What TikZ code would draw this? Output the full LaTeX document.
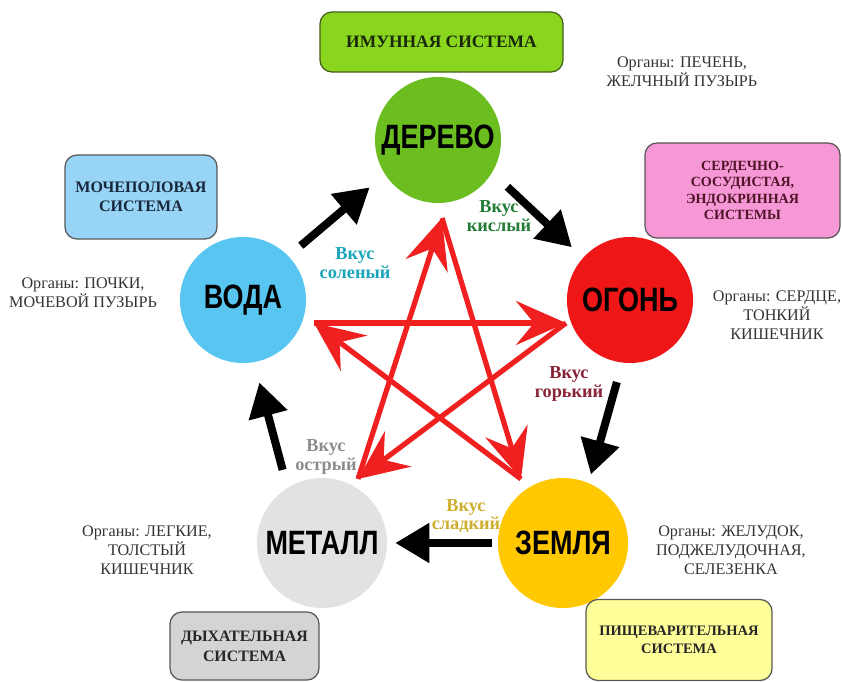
\documentclass[tikz,border=0pt]{standalone}
\usepackage{fontspec}
\setmainfont{Liberation Serif}
\newfontfamily\elemfont[FakeStretch=0.8]{Liberation Sans}
\usetikzlibrary{arrows.meta}

\definecolor{woodgreen}{RGB}{108,190,32}
\definecolor{firered}{RGB}{238,22,22}
\definecolor{earthyellow}{RGB}{255,200,0}
\definecolor{metalgrey}{RGB}{226,226,226}
\definecolor{waterblue}{RGB}{88,198,240}
\definecolor{starred}{RGB}{240,32,32}
\definecolor{boxgreen}{RGB}{138,214,30}
\definecolor{boxpink}{RGB}{246,152,214}
\definecolor{boxblue}{RGB}{152,212,246}
\definecolor{boxgrey}{RGB}{212,212,212}
\definecolor{boxyellow}{RGB}{255,255,153}
\definecolor{sourcol}{RGB}{35,125,55}
\definecolor{saltcol}{RGB}{25,165,185}
\definecolor{bittercol}{RGB}{135,35,55}
\definecolor{sharpcol}{RGB}{140,140,140}
\definecolor{sweetcol}{RGB}{205,175,45}

\tikzset{
  element/.style={circle, inner sep=0pt, minimum size=3.15cm,
    font=\elemfont\bfseries\fontsize{24}{24}\selectfont},
  sysbox/.style={draw=black!65, line width=0.9pt, rounded corners=0.3cm,
    align=center, text=black!85},
  organs/.style={align=center, text=black!80,
    font=\fontsize{11.5}{13.5}\selectfont},
  taste/.style={align=center, font=\bfseries\fontsize{13}{13}\selectfont},
  genarrow/.style={line width=0.2cm, -{Triangle[length=0.85cm,width=0.95cm]}},
  ctrlarrow/.style={draw=starred, line width=0.13cm,
    -{Stealth[length=1.25cm,width=1.1cm,inset=0.45cm]}},
}

\begin{document}
\begin{tikzpicture}[x=0.025cm, y=-0.025cm]
\useasboundingbox (0,0) rectangle (842,682);

    % five elements
    \node [element, fill=woodgreen] (derevo) at (438,140) {ДЕРЕВО};
    \node [element, fill=firered] (ogon) at (630,300) {ОГОНЬ};
    \node [element, fill=earthyellow, minimum size=3.25cm] (zemlya) at (563,543) {ЗЕМЛЯ};
    \node [element, fill=metalgrey, minimum size=3.25cm] (metall) at (322,543) {МЕТАЛЛ};
    \node [element, fill=waterblue] (voda) at (243,300) {ВОДА};

    % systems
    \node [sysbox, fill=boxgreen, draw={rgb,255:red,70;green,95;blue,30},
        minimum width=6.075cm, minimum height=1.5cm, text={rgb,255:red,25;green,40;blue,10},
        font=\bfseries\fontsize{12.4}{14}\selectfont] (imun) at (441.5,42) {ИМУННАЯ СИСТЕМА};
    \node [sysbox, fill=boxpink, minimum width=4.875cm, minimum height=2.375cm,
        text={rgb,255:red,80;green,20;blue,40},
        font=\bfseries\fontsize{10}{11.5}\selectfont] (serdce) at (742.5,190.5)
        {СЕРДЕЧНО-\\СОСУДИСТАЯ,\\ЭНДОКРИННАЯ\\СИСТЕМЫ};
    \node [sysbox, fill=boxblue, minimum width=3.8cm, minimum height=2.1cm,
        text={rgb,255:red,25;green,40;blue,60},
        font=\bfseries\fontsize{11.4}{13.5}\selectfont] (mochepol) at (141,197)
        {МОЧЕПОЛОВАЯ\\СИСТЕМА};
    \node [sysbox, fill=boxgrey, minimum width=3.725cm, minimum height=1.7cm,
        font=\bfseries\fontsize{11.3}{14}\selectfont] (dyhat) at (244.5,646)
        {ДЫХАТЕЛЬНАЯ\\СИСТЕМА};
    \node [sysbox, fill=boxyellow, minimum width=4.65cm, minimum height=2.025cm,
        font=\bfseries\fontsize{10.3}{13}\selectfont] (pishch) at (679,640)
        {ПИЩЕВАРИТЕЛЬНАЯ\\СИСТЕМА};

    % organs
    \node [organs] (orgDerevo) at (682,72) {Органы: ПЕЧЕНЬ,\\ЖЕЛЧНЫЙ ПУЗЫРЬ};
    \node [organs] (orgOgon) at (777,315) {Органы: СЕРДЦЕ,\\ТОНКИЙ\\КИШЕЧНИК};
    \node [organs] (orgVoda) at (83,293) {Органы: ПОЧКИ,\\МОЧЕВОЙ ПУЗЫРЬ};
    \node [organs] (orgMetall) at (147,550) {Органы: ЛЕГКИЕ,\\ТОЛСТЫЙ\\КИШЕЧНИК};
    \node [organs] (orgZemlya) at (731,550) {Органы: ЖЕЛУДОК,\\ПОДЖЕЛУДОЧНАЯ,\\СЕЛЕЗЕНКА};

    % tastes
    \node [taste, text=sourcol] (kisly) at (499,216) {Вкус\\кислый};
    \node [taste, text=saltcol] (soleny) at (355,263) {Вкус\\соленый};
    \node [taste, text=bittercol] (gorky) at (569,384) {Вкус\\горький};
    \node [taste, text=sharpcol] (ostry) at (326,457) {Вкус\\острый};
    \node [taste, text=sweetcol] (sladky) at (466,516) {Вкус\\сладкий};

    % generating cycle
    \draw [genarrow, shorten <=0.4cm, shorten >=0.5cm] (voda.44) -- (derevo.-147);
    \draw [genarrow, shorten <=0.52cm, shorten >=0.38cm] (derevo.-31) -- (ogon.138);
    \draw [genarrow, shorten <=0.5cm, shorten >=0.22cm] (ogon.-97) -- (zemlya.67);
    \draw [genarrow, shorten <=0.15cm, shorten >=0.2cm] (zemlya.180) -- (metall.0);
    \draw [genarrow, shorten <=0.46cm, shorten >=0.52cm] (metall.122) -- (voda.-80);

    % controlling star
    \coordinate (pDerevo) at (442,218);
    \coordinate (pOgon) at (566,323);
    \coordinate (pZemlya) at (521,479);
    \coordinate (pMetall) at (358,479);
    \coordinate (pVoda) at (314,323);
    \draw [ctrlarrow] (pVoda) -- (pOgon);
    \draw [ctrlarrow] (pOgon) -- (pMetall);
    \draw [ctrlarrow] (pMetall) -- (pDerevo);
    \draw [ctrlarrow] (pDerevo) -- (pZemlya);
    \draw [ctrlarrow] (pZemlya) -- (pVoda);

\end{tikzpicture}
\end{document}
